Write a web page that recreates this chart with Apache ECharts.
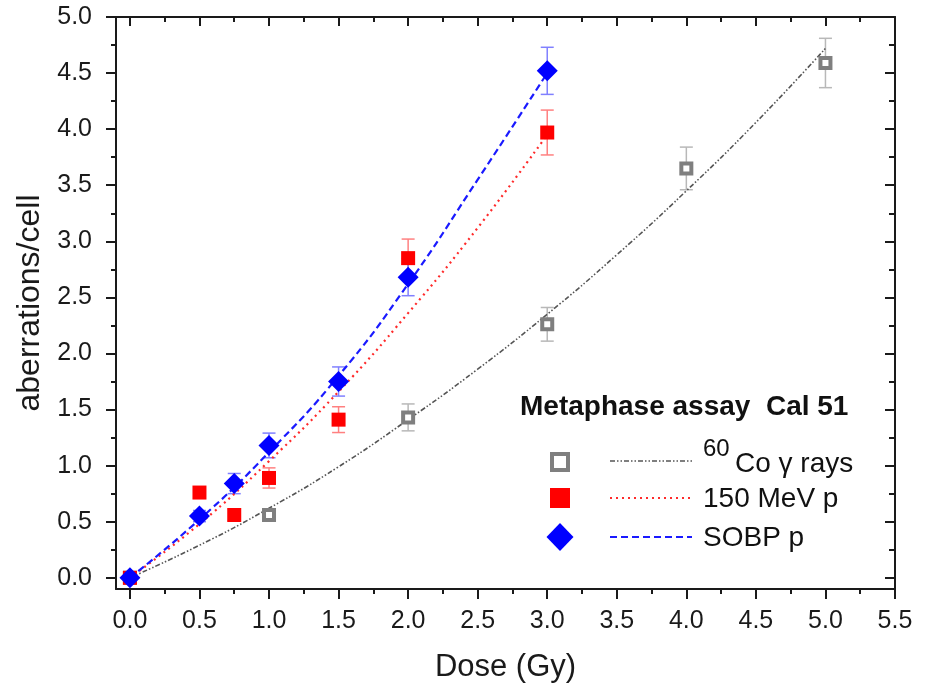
<!DOCTYPE html>
<html>
<head>
<meta charset="utf-8">
<script src="https://cdn.jsdelivr.net/npm/echarts@6/dist/echarts.min.js"></script>
<style>html,body{margin:0;padding:0;background:#fff;}#c{width:941px;height:691px;}</style>
</head>
<body>
<div id="c"></div>
<script>
// ---- data ----
const xMajorTicks = [0, 0.5, 1, 1.5, 2, 2.5, 3, 3.5, 4, 4.5, 5, 5.5];
const xMinorTicks = [0.25, 0.75, 1.25, 1.75, 2.25, 2.75, 3.25, 3.75, 4.25, 4.75, 5.25];
const yMajorTicks = [0, 0.5, 1, 1.5, 2, 2.5, 3, 3.5, 4, 4.5, 5];
const yMinorTicks = [0.25, 0.75, 1.25, 1.75, 2.25, 2.75, 3.25, 3.75, 4.25, 4.75];

const doseCo = [0, 1, 2, 3, 4, 5];
const coValues = [0, 0.56, 1.43, 2.26, 3.65, 4.59];
const coErrors = [0, 0.04, 0.12, 0.15, 0.19, 0.22];

const doseP = [0, 0.5, 0.75, 1, 1.5, 2, 3];
const p150Values = [0, 0.76, 0.56, 0.89, 1.41, 2.85, 3.97];
const p150Errors = [0, 0.05, 0.05, 0.09, 0.115, 0.17, 0.2];
const sobpValues = [0, 0.55, 0.84, 1.18, 1.75, 2.68, 4.52];
const sobpErrors = [0, 0.05, 0.09, 0.11, 0.13, 0.165, 0.21];

const fitDoseCo = [0, 0.5, 1, 1.5, 2, 2.5, 3, 3.5, 4, 4.5, 5];
const fitCo = [0, 0.29, 0.62, 0.99, 1.41, 1.86, 2.35, 2.88, 3.45, 4.06, 4.72];
const fitDoseP = [0, 0.5, 1, 1.5, 2, 2.5, 3];
const fitP150 = [0, 0.48, 1.04, 1.66, 2.36, 3.12, 3.95];
const fitSobp = [0, 0.52, 1.12, 1.80, 2.62, 3.55, 4.5];

const legendTitle = 'Metaphase assay  Cal 51';
const legendNames = ['Co \u03b3 rays', '150 MeV p', 'SOBP p'];
const coSuperscript = '60';

// ---- helpers ----
const FONT = '"Liberation Sans", Arial, sans-serif';
const AXIS_COLOR = '#1a1a1a';
const zip = (xs, ys) => xs.map((x, i) => [x, ys[i]]);
const zip3 = (xs, ys, es) => xs.map((x, i) => [x, ys[i], es[i]]);

const gridBox = {left: 116, right: 46, top: 17, bottom: 102};
const grids = [0, 1, 2, 3].map(() => Object.assign({}, gridBox));

function xAxisDef(gridIndex, position, ticks, len, inside, showLabel, showLine) {
  return {
    type: 'value', gridIndex, position, min: -0.1, max: 5.5,
    splitLine: {show: false},
    axisLine: {show: showLine, onZero: false, lineStyle: {color: AXIS_COLOR, width: 2}},
    axisTick: {show: true, inside, length: len, customValues: ticks, lineStyle: {color: AXIS_COLOR, width: 2}},
    axisLabel: {show: showLabel, customValues: ticks, margin: 20, fontSize: 25, fontFamily: FONT, color: '#1a1a1a',
      formatter: v => v.toFixed(1)}
  };
}
function yAxisDef(gridIndex, position, ticks, len, inside, showLabel, showLine) {
  return {
    type: 'value', gridIndex, position, min: -0.1, max: 5.0,
    splitLine: {show: false},
    axisLine: {show: showLine, onZero: false, lineStyle: {color: AXIS_COLOR, width: 2}},
    axisTick: {show: true, inside, length: len, customValues: ticks, lineStyle: {color: AXIS_COLOR, width: 2}},
    axisLabel: {show: showLabel, customValues: ticks, margin: 24, fontSize: 25, fontFamily: FONT, color: '#1a1a1a',
      formatter: v => v.toFixed(1)}
  };
}

const xAxes = [
  Object.assign(xAxisDef(0, 'bottom', xMajorTicks, 10, false, true, true), {
    name: 'Dose (Gy)', nameLocation: 'middle', nameGap: 63,
    nameTextStyle: {fontSize: 31, fontFamily: FONT, color: '#1a1a1a'}
  }),
  xAxisDef(1, 'bottom', xMinorTicks, 5, false, false, false),
  xAxisDef(2, 'top', xMajorTicks, 9, true, false, true),
  xAxisDef(3, 'top', xMinorTicks, 5, true, false, false)
];
const yAxes = [
  Object.assign(yAxisDef(0, 'left', yMajorTicks, 10, false, true, true), {
    name: 'aberrations/cell', nameLocation: 'middle', nameGap: 70,
    nameTextStyle: {fontSize: 32, fontFamily: FONT, color: '#1a1a1a'}
  }),
  yAxisDef(1, 'left', yMinorTicks, 5, false, false, false),
  yAxisDef(2, 'right', yMajorTicks, 10, true, false, true),
  yAxisDef(3, 'right', yMinorTicks, 6, true, false, false)
];

function errorBarSeries(data, color) {
  return {
    type: 'custom', xAxisIndex: 0, yAxisIndex: 0, z: 1, silent: true,
    data: data,
    renderItem: function (params, api) {
      const x = api.value(0), y = api.value(1), e = api.value(2);
      if (!e) return null;
      const hi = api.coord([x, y + e]);
      const lo = api.coord([x, y - e]);
      const cap = 6.5;
      const st = {stroke: color, lineWidth: 1.5, fill: null};
      return {
        type: 'group',
        children: [
          {type: 'line', shape: {x1: hi[0], y1: hi[1], x2: lo[0], y2: lo[1]}, style: st},
          {type: 'line', shape: {x1: hi[0] - cap, y1: hi[1], x2: hi[0] + cap, y2: hi[1]}, style: st},
          {type: 'line', shape: {x1: lo[0] - cap, y1: lo[1], x2: lo[0] + cap, y2: lo[1]}, style: st}
        ]
      };
    }
  };
}

function fitSeries(data, color, dash, width) {
  return {
    type: 'line', data: data, smooth: 0.5, showSymbol: false, silent: true, z: 2,
    lineStyle: {color: color, width: width, type: dash}
  };
}

const series = [
  fitSeries(zip(fitDoseCo, fitCo), '#555555', [5, 2, 1.5, 2, 1.5, 2], 1.6),
  fitSeries(zip(fitDoseP, fitP150), '#ff2a2a', [2, 4], 2.2),
  fitSeries(zip(fitDoseP, fitSobp), '#1a1aff', [7, 4], 2.2),
  errorBarSeries(zip3(doseCo, coValues, coErrors), '#b8b8b8'),
  errorBarSeries(zip3(doseP, p150Values, p150Errors), '#ff8080'),
  errorBarSeries(zip3(doseP, sobpValues, sobpErrors), '#8080ff'),
  {
    type: 'scatter', data: zip(doseCo, coValues), symbol: 'rect', symbolSize: 10, z: 3,
    itemStyle: {color: '#ffffff', borderColor: '#7f7f7f', borderWidth: 4, opacity: 1}
  },
  {
    type: 'scatter', data: zip(doseP, p150Values), symbol: 'rect', symbolSize: 14, z: 4,
    itemStyle: {color: '#ff0000', opacity: 1}
  },
  {
    type: 'scatter', data: zip(doseP, sobpValues), symbol: 'diamond', symbolSize: 21, z: 5,
    itemStyle: {color: '#0000ff', opacity: 1}
  }
];

// legend drawn as graphic elements
const lgFont = '28px ' + FONT;
const graphic = [
  {type: 'text', x: 520, y: 407, style: {text: legendTitle, font: 'bold 28px ' + FONT, fill: '#111', verticalAlign: 'middle'}},
  {type: 'rect', shape: {x: 552, y: 454, width: 16, height: 16}, style: {fill: '#fff', stroke: '#7f7f7f', lineWidth: 4}},
  {type: 'line', shape: {x1: 610, y1: 461, x2: 692, y2: 461}, style: {stroke: '#555', lineWidth: 1.6, lineDash: [5, 2, 1.5, 2, 1.5, 2]}},
  {type: 'text', x: 703, y: 449, style: {text: coSuperscript, font: '24px ' + FONT, fill: '#111', verticalAlign: 'middle'}},
  {type: 'text', x: 735, y: 464, style: {text: legendNames[0], font: lgFont, fill: '#111', verticalAlign: 'middle'}},
  {type: 'rect', shape: {x: 550, y: 488, width: 20, height: 20}, style: {fill: '#ff0000'}},
  {type: 'line', shape: {x1: 610, y1: 498, x2: 692, y2: 498}, style: {stroke: '#ff2a2a', lineWidth: 2.2, lineDash: [2, 4]}},
  {type: 'text', x: 703, y: 499, style: {text: legendNames[1], font: lgFont, fill: '#111', verticalAlign: 'middle'}},
  {type: 'polygon', shape: {points: [[560, 523], [573.5, 537], [560, 551], [546.5, 537]]}, style: {fill: '#0000ff'}},
  {type: 'line', shape: {x1: 610, y1: 537, x2: 692, y2: 537}, style: {stroke: '#1a1aff', lineWidth: 2.2, lineDash: [7, 4]}},
  {type: 'text', x: 703, y: 538, style: {text: legendNames[2], font: lgFont, fill: '#111', verticalAlign: 'middle'}}
];

const chart = echarts.init(document.getElementById('c'), null, {renderer: 'canvas'});
chart.setOption({
  animation: false,
  backgroundColor: '#ffffff',
  grid: grids,
  xAxis: xAxes,
  yAxis: yAxes,
  series: series,
  graphic: graphic
});
</script>
</body>
</html>
